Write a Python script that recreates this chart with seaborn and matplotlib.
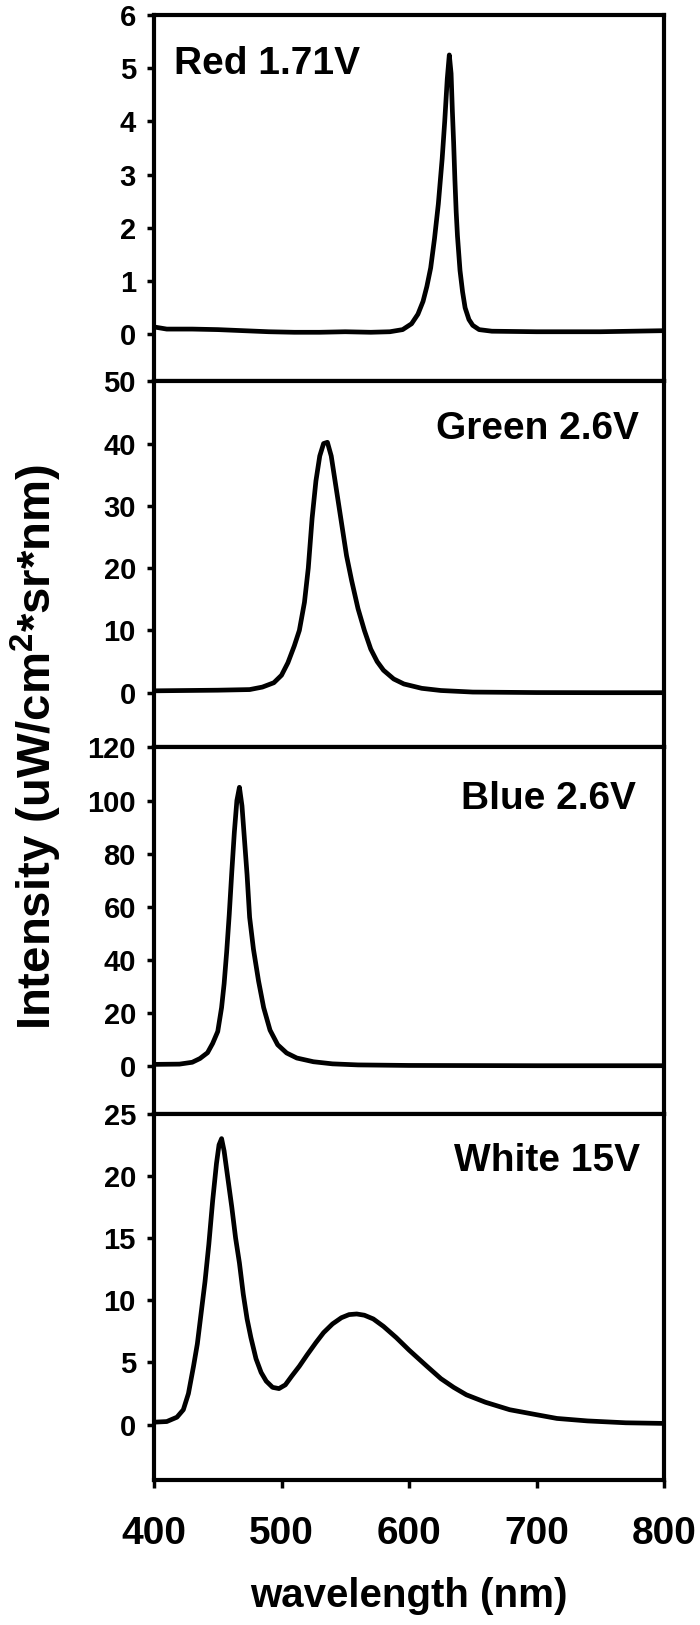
import matplotlib
matplotlib.use("Agg")
import matplotlib.pyplot as plt
import pandas as pd
import seaborn as sns

# spectra (wavelength nm, intensity uW/cm2*sr*nm)
red_wl = [400, 410, 430, 450, 470, 490, 510, 530, 550, 570, 585, 595, 602, 607, 611, 614, 617,
          620, 623, 626, 628, 630, 631.6, 633, 634, 635, 636, 637, 638, 640, 642, 644, 647, 650,
          655, 665, 700, 750, 800]
red_int = [0.14, 0.10, 0.10, 0.09, 0.07, 0.05, 0.04, 0.04, 0.05, 0.04, 0.05, 0.09, 0.2, 0.38,
           0.62, 0.9, 1.25, 1.8, 2.45, 3.3, 4.0, 4.8, 5.25, 4.9, 4.2, 3.6, 2.9, 2.3, 1.85, 1.2,
           0.8, 0.5, 0.28, 0.17, 0.09, 0.06, 0.05, 0.05, 0.07]

green_wl = [400, 450, 475, 485, 494, 500, 505, 510, 514, 518, 521, 524, 527, 530, 533, 536, 539,
            542, 545, 548, 551, 555, 560, 565, 570, 575, 580, 588, 596, 610, 625, 650, 700, 750, 800]
green_int = [0.3, 0.4, 0.5, 0.9, 1.6, 2.8, 4.8, 7.5, 10, 14.5, 20, 28, 34, 38, 40, 40.2, 38,
             34, 30, 26, 22, 18, 13.5, 10, 7, 5, 3.6, 2.2, 1.4, 0.7, 0.35, 0.1, 0.02, 0.0, 0.0]

blue_wl = [400, 420, 430, 436, 442, 446, 450, 453, 455, 457, 459, 461, 463, 465, 467, 469, 471,
           473, 475, 478, 482, 486, 491, 497, 504, 512, 525, 540, 560, 600, 700, 800]
blue_int = [0.6, 0.7, 1.4, 2.8, 5, 8.5, 13, 22, 31, 43, 57, 73, 88, 100, 105, 98, 85,
            72, 56, 44, 32, 22, 13.5, 8, 4.9, 3, 1.6, 0.8, 0.4, 0.2, 0.1, 0.1]

white_wl = [400, 410, 418, 423, 427, 431, 434, 437, 440, 443, 446, 449, 451, 453, 455, 457, 459,
            461, 464, 467, 470, 473, 476, 480, 484, 488, 493, 498, 503, 508, 514, 520, 527, 533,
            540, 547, 553, 559, 565, 572, 580, 590, 600, 614, 625, 635, 645, 660, 679, 700, 716,
            740, 770, 800]
white_int = [0.2, 0.25, 0.6, 1.2, 2.5, 4.7, 6.5, 9, 11.5, 14.5, 18, 21, 22.5, 23, 22, 20.5, 19,
             17.5, 15, 13, 10.5, 8.5, 7, 5.3, 4.2, 3.5, 3.0, 2.9, 3.2, 3.9, 4.7, 5.6, 6.6, 7.4,
             8.1, 8.6, 8.85, 8.9, 8.8, 8.5, 7.9, 7.0, 6.0, 4.7, 3.7, 3.0, 2.4, 1.8, 1.2, 0.8, 0.5,
             0.3, 0.15, 0.1]

labels = ["Red 1.71V", "Green 2.6V", "Blue 2.6V", "White 15V"]
y_ranges = [(-0.88, 6), (-8.8, 50), (-18, 120), (-4.45, 25)]
y_steps = [1, 10, 20, 5]
x_ticks = [400, 500, 600, 700, 800]

sns.set_style("ticks")
plt.rcParams["font.family"] = ["Liberation Sans", "DejaVu Sans"]
plt.rcParams["font.weight"] = "bold"
plt.rcParams["text.color"] = "black"
plt.rcParams["axes.labelcolor"] = "black"
plt.rcParams["xtick.color"] = "black"
plt.rcParams["ytick.color"] = "black"
plt.rcParams["mathtext.fontset"] = "custom"
plt.rcParams["mathtext.rm"] = "Liberation Sans:bold"
plt.rcParams["mathtext.it"] = "Liberation Sans:bold"
plt.rcParams["mathtext.bf"] = "Liberation Sans:bold"

fig, axes = plt.subplots(4, 1, figsize=(7, 16.25), dpi=100, sharex=True)
fig.subplots_adjust(left=0.22, right=0.9486, top=1 - 15 / 1625, bottom=1 - 1480 / 1625, hspace=0)

spectra = [(red_wl, red_int), (green_wl, green_int), (blue_wl, blue_int), (white_wl, white_int)]
# label placement (axes fraction), left label for red, right-aligned for the rest
text_pos = [(0.04, 0.839, "left"), (0.95, 0.842, "right"), (0.945, 0.832, "right"), (0.953, 0.844, "right")]

for i, ax in enumerate(axes):
    wl, inten = spectra[i]
    df = pd.DataFrame({"wavelength": wl, "intensity": inten})
    sns.lineplot(data=df, x="wavelength", y="intensity", ax=ax, color="black", lw=3.4)

    lo, hi = y_ranges[i]
    ax.set_ylim(lo, hi)
    ax.set_xlim(400, 800)
    ax.set_yticks(list(range(0, int(hi) + 1, y_steps[i])))
    ax.set_xlabel("")
    ax.set_ylabel("")

    for sp in ax.spines.values():
        sp.set_visible(True)
        sp.set_linewidth(3)
        sp.set_color("black")

    ax.tick_params(axis="y", direction="out", length=5, width=2.5, pad=8,
                   labelsize=21, colors="black")
    if i < 3:
        ax.tick_params(axis="x", bottom=False, labelbottom=False)

    x, y, ha = text_pos[i]
    ax.text(x, y, labels[i], transform=ax.transAxes, ha=ha, va="baseline",
            fontsize=28, fontweight="bold", color="black")

axes[-1].set_xticks(x_ticks)
axes[-1].tick_params(axis="x", direction="out", length=6, width=2.5, pad=20, labelsize=28,
                     colors="black")
axes[-1].set_xlabel("wavelength (nm)", fontsize=29, fontweight="bold", labelpad=18)

fig.text(0.052, 1 - 747 / 1625, r"Intensity (uW/cm$^2$*sr*nm)", rotation=90,
         ha="center", va="center", fontsize=34, fontweight="bold", color="black")

fig.savefig("out.png", dpi=100, facecolor="white")
